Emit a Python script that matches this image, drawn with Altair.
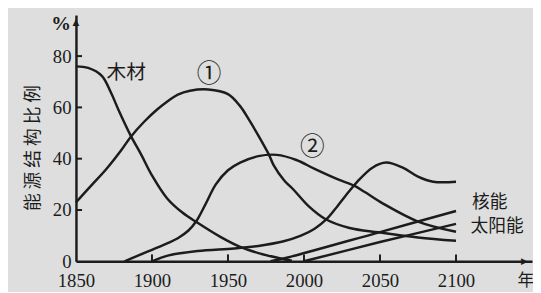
import altair as alt
import pandas as pd

# ---- data ----
wood_years = [1850, 1858, 1867, 1873, 1878, 1886, 1893, 1900, 1910, 1920, 1930, 1945, 1958, 1970, 1984, 1992]
wood_vals = [76, 75.4, 72.3, 65.8, 59, 49, 41.5, 33.5, 24.5, 19, 15, 9.5, 5.6, 3.2, 1.2, 0.2]

coal_years = [1850, 1860, 1870, 1880, 1886, 1895, 1903, 1911, 1917, 1925, 1937, 1950, 1958, 1964, 1970, 1977, 1980, 1987, 1993, 2003, 2014, 2030, 2049, 2075, 2100]
coal_vals = [23, 29.5, 36, 43.5, 48.5, 54.5, 59, 62.7, 65, 66.5, 67, 65.2, 60.5, 55, 49, 41.5, 37.5, 31.5, 28, 21.5, 16.5, 13, 11.3, 9.3, 8]

oil_years = [1882, 1890, 1900, 1910, 1917, 1924, 1929, 1935, 1942, 1950, 1958, 1970, 1982, 1995, 2007, 2022, 2033, 2040, 2052, 2075, 2100]
oil_vals = [0, 2, 4.5, 7, 9, 12, 15.5, 22, 30, 35.5, 38.5, 41, 41.5, 39.5, 36, 32, 29.5, 27, 22.5, 15.5, 11.5]

gas_years = [1900, 1911, 1930, 1954, 1970, 1986, 1998, 2007, 2015, 2022, 2030, 2035, 2045, 2054, 2065, 2075, 2085, 2100]
gas_vals = [0, 2.3, 4, 5, 6, 7.7, 10, 12.7, 16.5, 21.5, 27.5, 31, 36.5, 38.5, 36.5, 33, 31, 31]

nuclear_years = [1978, 1990, 2050, 2100]
nuclear_vals = [0, 1.6, 11.4, 19.6]

solar_years = [2000, 2050, 2100]
solar_vals = [0, 7.5, 14.6]

x_ticks = [1850, 1900, 1950, 2000, 2050, 2100]
y_ticks = [0, 20, 40, 60, 80]

label_texts = ["木材", "①", "②"]
label_x = [1883, 1937.5, 2005.5]
label_y = [73.5, 73, 44.6]
label_sizes = [20, 25, 25]

end_texts = ["核能", "太阳能"]
end_x = [2110.5, 2109.5]
end_y = [22.6, 13.3]

y_title = "能 源 结 构 比 例"
unit_y_text = "%"
unit_x_text = "年"

x_end = 2150
y_end = 96

# ---- build tables ----
rows = []
for name, ys, vs in [("wood", wood_years, wood_vals), ("coal", coal_years, coal_vals),
                     ("oil", oil_years, oil_vals), ("gas", gas_years, gas_vals),
                     ("nuclear", nuclear_years, nuclear_vals), ("solar", solar_years, solar_vals)]:
    for yr, v in zip(ys, vs):
        rows.append({"series": name, "year": yr, "value": v})
df = pd.DataFrame(rows)

W, H = 463, 250
INK = "#1c1c1c"
BG = "#dedede"
CJK = "Noto Sans CJK SC"
SERIF = "Liberation Serif"

xs = alt.Scale(domain=[1850, x_end], nice=False, zero=False)
ys_ = alt.Scale(domain=[0, y_end], nice=False)

lines = alt.Chart(df).mark_line(interpolate="catmull-rom", color=INK, strokeWidth=2.5).encode(
    x=alt.X("year:Q", scale=xs, axis=alt.Axis(values=x_ticks, format="d", ticks=False, grid=False,
                                              labelFont=SERIF, labelFontSize=19, labelColor=INK,
                                              labelPadding=11, domainColor=INK, domainWidth=2.5,
                                              title=None, labelFlush=False)),
    y=alt.Y("value:Q", scale=ys_, axis=alt.Axis(values=y_ticks, ticks=False, grid=False,
                                                labelFont=SERIF, labelFontSize=19, labelColor=INK,
                                                labelPadding=5, domainColor=INK, domainWidth=2.5,
                                                title=None)),
    detail="series:N",
)

# inward tick marks
ytick_df = pd.DataFrame({"v": y_ticks[1:], "x0": [1850] * 4, "x1": [1854] * 4})
yticks = alt.Chart(ytick_df).mark_rule(color=INK, strokeWidth=2).encode(
    y=alt.Y("v:Q", scale=ys_), x=alt.X("x0:Q", scale=xs), x2="x1:Q")

xtick_df = pd.DataFrame({"t": x_ticks[1:], "y0": [0] * 5, "y1": [2.7] * 5})
xticks = alt.Chart(xtick_df).mark_rule(color=INK, strokeWidth=2).encode(
    x=alt.X("t:Q", scale=xs), y=alt.Y("y0:Q", scale=ys_), y2="y1:Q")

lab_df = pd.DataFrame({"t": label_texts, "x": label_x, "y": label_y, "s": label_sizes})
labels = alt.Chart(lab_df).mark_text(font=CJK, color=INK, align="center", baseline="middle").encode(
    x=alt.X("x:Q", scale=xs), y=alt.Y("y:Q", scale=ys_), text="t:N",
    size=alt.Size("s:Q", scale=None, legend=None))

end_df = pd.DataFrame({"t": end_texts, "x": end_x, "y": end_y})
end_labels = alt.Chart(end_df).mark_text(font=CJK, fontSize=18, color=INK, align="left", baseline="middle").encode(
    x=alt.X("x:Q", scale=xs), y=alt.Y("y:Q", scale=ys_), text="t:N")

unit_df = pd.DataFrame({"t": [unit_y_text], "x": [1840.3], "y": [92.3]})
unit_y = alt.Chart(unit_df).mark_text(font=SERIF, fontSize=20, fontWeight="bold", color=INK, align="center", baseline="middle").encode(
    x=alt.X("x:Q", scale=xs), y=alt.Y("y:Q", scale=ys_), text="t:N")

unitx_df = pd.DataFrame({"t": [unit_x_text], "x": [2146], "y": [-7.6]})
unit_x = alt.Chart(unitx_df).mark_text(font=CJK, fontSize=17, color=INK, align="center", baseline="middle").encode(
    x=alt.X("x:Q", scale=xs), y=alt.Y("y:Q", scale=ys_), text="t:N")

title_df = pd.DataFrame({"t": [y_title]})
ytitle = alt.Chart(title_df).mark_text(font=CJK, fontSize=18, color=INK, angle=270, align="center", baseline="middle").encode(
    x=alt.value(-43), y=alt.value(135), text="t:N")

# arrow heads drawn as glyphs at the axis ends
arrow_df = pd.DataFrame({"t": ["▲", "▶"], "x": [1850, 2145], "y": [93.4, 0]})
arrows = alt.Chart(arrow_df).mark_text(font="DejaVu Sans", fontSize=9, color=INK, align="center", baseline="middle").encode(
    x=alt.X("x:Q", scale=xs), y=alt.Y("y:Q", scale=ys_), text="t:N")

chart = alt.layer(lines, yticks, xticks, arrows, labels, end_labels, unit_y, unit_x, ytitle).properties(
    width=W, height=H,
    autosize=alt.AutoSizeParams(type="none"),
    padding={"left": 69, "top": 5, "right": 1, "bottom": 29},
    background=BG,
).configure_view(stroke=None)

chart.save("out.html", embed_options={"renderer": "svg", "actions": False})
